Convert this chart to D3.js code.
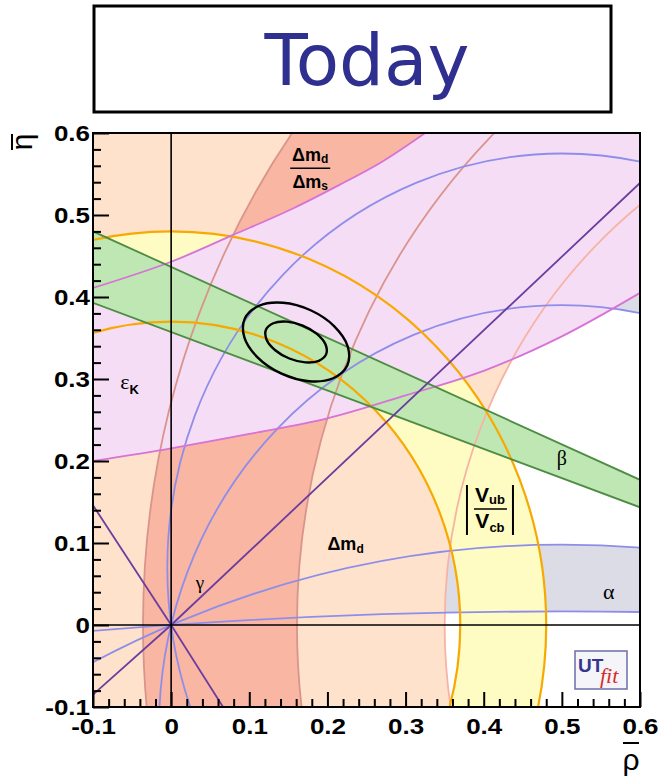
<!DOCTYPE html>
<html><head><meta charset="utf-8">
<script src="https://cdn.jsdelivr.net/npm/d3@7"></script>
<style>
body{margin:0;background:#fff}
svg{display:block}
</style></head><body>
<svg id="c" width="658" height="777"></svg>
<script>
// ---------------- data ----------------
const title = "Today";
const xTicks = [-0.1, 0, 0.1, 0.2, 0.3, 0.4, 0.5, 0.6];
const xTickLabels = ["-0.1", "0", "0.1", "0.2", "0.3", "0.4", "0.5", "0.6"];
const yTicks = [-0.1, 0, 0.1, 0.2, 0.3, 0.4, 0.5, 0.6];
const yTickLabels = ["-0.1", "0", "0.1", "0.2", "0.3", "0.4", "0.5", "0.6"];
// circles: [centre rho, centre eta, radius]
const dmdBand = [[1, 0, 0.65], [1, 0, 1.45]];
const dmRatioBand = [[1, 0, 0.839], [1, 0, 1.036]];
const vubBand = [[0, 0, 0.37], [0, 0, 0.48]];
const alphaBandLow = [[0.5, -7.567, 7.5835], [0.5, -1.2265, 1.3245]];
const alphaBandHigh = [[0.5, -0.1255, 0.5155], [0.5, 0.0701, 0.5049]];
// epsilon_K hyperbola edges
const epsLower = [[-0.1, 0.2], [0, 0.2155], [0.1, 0.233], [0.2, 0.252], [0.3, 0.28], [0.4, 0.31], [0.5, 0.352], [0.6, 0.405]];
const epsUpper = [[-0.1, 0.411], [0, 0.443], [0.08, 0.476], [0.156, 0.508], [0.216, 0.537], [0.27, 0.565], [0.325, 0.6]];
// beta band edges
const betaUpper = [[-0.1, 0.48], [0.6, 0.177]];
const betaLower = [[-0.1, 0.393], [0.6, 0.1435]];
// gamma lines through the origin
const gammaLines = [[[-0.1, -0.085], [0, 0], [0.6, 0.539]], [[-0.1, 0.146], [0, 0], [0.0664, -0.1]]];
// fit contours (95% and 68%)
const contour95 = [[0.2254, 0.3164], [0.2073, 0.3009], [0.1764, 0.2973], [0.1412, 0.3065], [0.1109, 0.3260], [0.0937, 0.3507],
  [0.0943, 0.3739], [0.1124, 0.3893], [0.1432, 0.3930], [0.1785, 0.3838], [0.2088, 0.3642], [0.2260, 0.3396]];
const contour68 = [[0.1984, 0.3303], [0.1890, 0.3222], [0.1717, 0.3203], [0.1513, 0.3250], [0.1332, 0.3351], [0.1222, 0.3479],
  [0.1213, 0.3600], [0.1307, 0.3680], [0.1479, 0.3700], [0.1684, 0.3652], [0.1865, 0.3551], [0.1975, 0.3423]];

// ---------------- drawing ----------------
const svg = d3.select("#c");
const x = d3.scaleLinear().domain([-0.1, 0.6]).range([93, 640]);
const y = d3.scaleLinear().domain([-0.1, 0.6]).range([707, 133]);
const X0 = x.range()[0], X1 = x.range()[1], Y0 = y.range()[1], Y1 = y.range()[0];

svg.append("defs").append("clipPath").attr("id", "plot")
  .append("rect").attr("x", X0).attr("y", Y0).attr("width", X1 - X0).attr("height", Y1 - Y0);

function ell(c) {
  const cx = x(c[0]), cy = y(c[1]);
  const rx = x(c[0] + c[2]) - cx, ry = cy - y(c[1] + c[2]);
  return `M${cx - rx},${cy}a${rx},${ry} 0 1,0 ${2 * rx},0a${rx},${ry} 0 1,0 ${-2 * rx},0Z`;
}
const annulus = b => ell(b[0]) + ell(b[1]);

const plot = svg.append("g").attr("clip-path", "url(#plot)");

// fills
const fills = [
  [annulus(alphaBandLow), "#dcdce7"],
  [annulus(alphaBandHigh), "#dcdce7"],
  [annulus(dmdBand), "#fee2cb"],
  [annulus(dmRatioBand), "#f9b6a3"],
  [annulus(vubBand), "#fefbc3"],
];
fills.forEach(f => plot.append("path").attr("d", f[0]).attr("fill", f[1]).attr("fill-rule", "evenodd"));

const cr = d3.line().x(d => x(d[0])).y(d => y(d[1])).curve(d3.curveCatmullRom.alpha(0.5));
const lin = d3.line().x(d => x(d[0])).y(d => y(d[1]));
const xd = x.domain(), yd = y.domain();
const pinkPath = cr(epsLower) +
  `L${x(xd[1])},${y(yd[1])}L${x(epsUpper[epsUpper.length - 1][0])},${y(yd[1])}` +
  cr(epsUpper.slice().reverse()).replace(/^M/, "L") + "Z";
plot.append("path").attr("d", pinkPath).attr("fill", "#f6ddf6");

plot.append("path").attr("d", lin(betaUpper.concat(betaLower.slice().reverse())) + "Z").attr("fill", "#bfe7b3");

// boundary lines
function circ(c, col, w) {
  plot.append("path").attr("d", ell(c)).attr("fill", "none").attr("stroke", col).attr("stroke-width", w);
}
circ(dmdBand[0], "#f6b4a4", 1.8);
dmRatioBand.forEach(c => circ(c, "#d9958b", 1.8));
alphaBandLow.concat(alphaBandHigh).forEach(c => circ(c, "#8e8eea", 1.8));
vubBand.forEach(c => circ(c, "#f7a900", 2.2));
[epsLower, epsUpper].forEach(p => plot.append("path").attr("d", cr(p)).attr("fill", "none").attr("stroke", "#d673d6").attr("stroke-width", 1.8));
[betaUpper, betaLower].forEach(p => plot.append("path").attr("d", lin(p)).attr("fill", "none").attr("stroke", "#4d8c43").attr("stroke-width", 1.8));
gammaLines.forEach(p => plot.append("path").attr("d", lin(p)).attr("fill", "none").attr("stroke", "#6a3d9f").attr("stroke-width", 1.8));

// rho = 0 and eta = 0 lines
plot.append("line").attr("x1", x(0)).attr("x2", x(0)).attr("y1", Y0).attr("y2", Y1).attr("stroke", "#000").attr("stroke-width", 1.6);
plot.append("line").attr("x1", X0).attr("x2", X1).attr("y1", y(0)).attr("y2", y(0)).attr("stroke", "#000").attr("stroke-width", 1.6);

// contours
const closed = d3.line().x(d => x(d[0])).y(d => y(d[1])).curve(d3.curveCatmullRomClosed.alpha(0.5));
[contour95, contour68].forEach(p => plot.append("path").attr("d", closed(p)).attr("fill", "none").attr("stroke", "#000").attr("stroke-width", 2.4));

// ---------- labels ----------
const serif = "'Liberation Serif','DejaVu Serif',serif";
const sans = "'Liberation Sans',Arial,sans-serif";
const lab = svg.append("g");

// Δm_d / Δm_s
{
  const cx = x(0.178), cy = y(0.557);
  const t1 = lab.append("text").attr("x", cx).attr("y", cy - 7).attr("text-anchor", "middle")
    .attr("font-family", sans).attr("font-weight", "bold").attr("font-size", 18);
  t1.append("tspan").text("Δm"); t1.append("tspan").attr("font-size", 12).attr("dy", 2).text("d");
  lab.append("line").attr("x1", cx - 20).attr("x2", cx + 20).attr("y1", cy).attr("y2", cy).attr("stroke", "#000").attr("stroke-width", 1.5);
  const t2 = lab.append("text").attr("x", cx).attr("y", cy + 20).attr("text-anchor", "middle")
    .attr("font-family", sans).attr("font-weight", "bold").attr("font-size", 18);
  t2.append("tspan").text("Δm"); t2.append("tspan").attr("font-size", 12).attr("dy", 2).text("s");
}
// ε_K
{
  const t = lab.append("text").attr("x", x(-0.065)).attr("y", y(0.288)).attr("font-family", serif).attr("font-size", 22);
  t.append("tspan").text("ε");
  t.append("tspan").attr("font-family", sans).attr("font-weight", "bold").attr("font-size", 13).attr("dy", 5).text("K");
}
// Δm_d
{
  const t = lab.append("text").attr("x", x(0.2)).attr("y", y(0.092)).attr("font-family", sans).attr("font-weight", "bold").attr("font-size", 18);
  t.append("tspan").text("Δm"); t.append("tspan").attr("font-size", 12).attr("dy", 3).text("d");
}
// γ, β, α
lab.append("text").attr("x", x(0.037)).attr("y", y(0.044)).attr("text-anchor", "middle").attr("font-family", serif).attr("font-size", 19).text("γ");
lab.append("text").attr("x", x(0.5)).attr("y", y(0.195)).attr("text-anchor", "middle").attr("font-family", serif).attr("font-size", 20).text("β");
lab.append("text").attr("x", x(0.56)).attr("y", y(0.032)).attr("text-anchor", "middle").attr("font-family", serif).attr("font-size", 22).text("α");
// |Vub/Vcb|
{
  const cx = x(0.408), cy = y(0.1415);
  const t1 = lab.append("text").attr("x", cx).attr("y", cy - 7).attr("text-anchor", "middle").attr("font-family", sans).attr("font-weight", "bold").attr("font-size", 21);
  t1.append("tspan").text("V"); t1.append("tspan").attr("font-size", 13).attr("dy", 2).text("ub");
  lab.append("line").attr("x1", cx - 16).attr("x2", cx + 17).attr("y1", cy).attr("y2", cy).attr("stroke", "#000").attr("stroke-width", 1.5);
  const t2 = lab.append("text").attr("x", cx).attr("y", cy + 19).attr("text-anchor", "middle").attr("font-family", sans).attr("font-weight", "bold").attr("font-size", 21);
  t2.append("tspan").text("V"); t2.append("tspan").attr("font-size", 13).attr("dy", 4).text("cb");
  [cx - 23, cx + 23].forEach(bx => lab.append("line").attr("x1", bx).attr("x2", bx).attr("y1", cy - 24).attr("y2", cy + 26).attr("stroke", "#000").attr("stroke-width", 2));
}

// ---------- axes ----------
function styleAxis(g) {
  g.select(".domain").remove();
  g.selectAll("line").attr("stroke", "#000").attr("stroke-width", 2);
  g.attr("font-family", sans).attr("font-size", 22).attr("font-weight", "bold");
  g.selectAll("text").attr("fill", "#000").each(function () {
    const w = this.getComputedTextLength();
    this.setAttribute("textLength", w * 1.18);
    this.setAttribute("lengthAdjust", "spacingAndGlyphs");
  });
}
const minorX = d3.range(-0.1, 0.6001, 0.02).filter(v => !xTicks.some(t => Math.abs(t - v) < 1e-6));
const minorY = d3.range(-0.1, 0.6001, 0.02).filter(v => !yTicks.some(t => Math.abs(t - v) < 1e-6));

svg.append("g").attr("transform", `translate(0,${Y1})`)
  .call(d3.axisBottom(x).tickValues(minorX).tickFormat("").tickSizeInner(-8).tickSizeOuter(0)).call(styleAxis);
svg.append("g").attr("transform", `translate(0,${Y1})`)
  .call(d3.axisBottom(x).tickValues(xTicks).tickFormat((d, i) => xTickLabels[i]).tickSizeInner(-15).tickSizeOuter(0).tickPadding(11)).call(styleAxis);
svg.append("g").attr("transform", `translate(${X0},0)`)
  .call(d3.axisLeft(y).tickValues(minorY).tickFormat("").tickSizeInner(-8).tickSizeOuter(0)).call(styleAxis);
svg.append("g").attr("transform", `translate(${X0},0)`)
  .call(d3.axisLeft(y).tickValues(yTicks).tickFormat((d, i) => yTickLabels[i]).tickSizeInner(-16).tickSizeOuter(0).tickPadding(3)).call(styleAxis);

// frame
svg.append("rect").attr("x", X0).attr("y", Y0).attr("width", X1 - X0).attr("height", Y1 - Y0)
  .attr("fill", "none").attr("stroke", "#000").attr("stroke-width", 2);

// axis titles
{
  const tx = 631, ty = 770;
  svg.append("text").attr("x", tx).attr("y", ty).attr("text-anchor", "middle").attr("font-family", sans).attr("font-size", 30).text("ρ");
  svg.append("line").attr("x1", tx - 8).attr("x2", tx + 8).attr("y1", ty - 27).attr("y2", ty - 27).attr("stroke", "#000").attr("stroke-width", 2);
  const g = svg.append("g").attr("transform", "translate(32,142) rotate(-90)");
  g.append("text").attr("x", 0).attr("y", 0).attr("text-anchor", "middle").attr("font-family", sans).attr("font-size", 30).text("η");
  g.append("line").attr("x1", -8).attr("x2", 8).attr("y1", -20).attr("y2", -20).attr("stroke", "#000").attr("stroke-width", 2);
}

// UTfit logo
{
  const lx = X1 - 65, ly = y(-0.1) - 56;
  const g = svg.append("g");
  g.append("rect").attr("x", lx).attr("y", ly).attr("width", 52).attr("height", 38).attr("fill", "#f5f5f9").attr("stroke", "#6c6ca8").attr("stroke-width", 1.5);
  g.append("text").attr("x", lx + 3).attr("y", ly + 21).attr("font-family", sans).attr("font-weight", "bold").attr("font-size", 19).attr("fill", "#35358c").text("UT");
  g.append("text").attr("x", lx + 25).attr("y", ly + 32).attr("font-family", serif).attr("font-style", "italic").attr("font-size", 22).attr("fill", "#d52a2a").text("fit");
}

// title box
svg.append("rect").attr("x", 94).attr("y", 6).attr("width", 517).attr("height", 106).attr("fill", "#fff").attr("stroke", "#000").attr("stroke-width", 3);
svg.append("text").attr("x", 367).attr("y", 85).attr("text-anchor", "middle").attr("font-family", "'DejaVu Sans',sans-serif")
  .attr("font-size", 72).attr("fill", "#2f2f8f").attr("textLength", 205).attr("lengthAdjust", "spacingAndGlyphs").text(title);
</script>
</body></html>
